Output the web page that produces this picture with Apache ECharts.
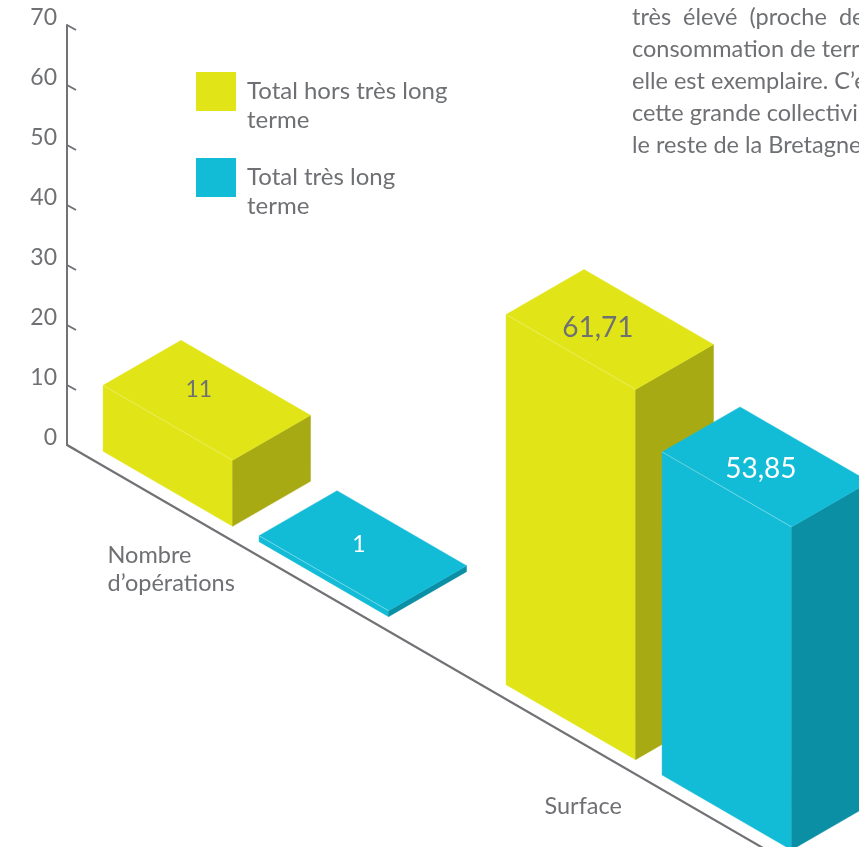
<!DOCTYPE html>
<html><head><meta charset="utf-8">
<style>html,body{margin:0;padding:0;background:#fff}#c{width:859px;height:847px}</style>
<script src="https://cdn.jsdelivr.net/npm/echarts@6/dist/echarts.min.js"></script>
</head><body><div id="c"></div>
<script>
const categories = ["Nombre\nd’opérations", "Surface"];
const seriesNames = ["Total hors très long\nterme", "Total très long\nterme"];
const horsTresLongTerme = [11, 61.71];
const tresLongTerme = [1, 53.85];
const yTickValues = [0, 10, 20, 30, 40, 50, 60, 70];
const noteLines = ["très  élevé  (proche  de", "consommation de terr", "elle est exemplaire. C’e", "cette grande collectivi", "le reste de la Bretagne"];

const FONT = "Lato";
const GREY = "#6f7073";
const AXIS = "#727276";
const SLOPE = 0.579, DEPTH_SLOPE = 0.577;
const FRONT_W = 129.5, SIDE_W = 78, GAP = 14.5;
const seriesShift = [-178, -22];
const valueNudge = [[[-8,-11],[-12,-1]], [[-4,-6],[-5,2]]];
const catNudge = [[-161,124],[-127,361]];
const faces = [
  {front:"#e1e518", top:"#e1e518", side:"#a8aa14", edge:"rgba(255,255,255,0.22)", label:GREY},
  {front:"#12bcd7", top:"#12bcd7", side:"#0b8fa5", edge:"rgba(255,255,255,0.35)", label:"#ffffff"}
];

function poly(points, fill){ return {type:"polygon", shape:{points}, style:{fill, stroke:fill, lineWidth:0.4}}; }

function barRenderer(s){
  return function(params, api){
    const cat = api.value(0), v = api.value(1);
    const top = api.coord([cat, v]), base = api.coord([cat, 0]);
    const gridLeft = params.coordSys.x;
    const along = top[0] + seriesShift[s] - gridLeft;
    const xL = gridLeft + along + 0.866 * GAP;
    const yB = base[1] + along * SLOPE - GAP / 2;
    const h = base[1] - top[1];
    const fx = FRONT_W, fy = FRONT_W * SLOPE, sx = SIDE_W, sy = -SIDE_W * DEPTH_SLOPE;
    const f = faces[s];
    const yT = yB - h;
    const nudge = valueNudge[s][params.dataIndex];
    const big = v > 20;
    return {type:"group", children:[
      poly([[xL,yB],[xL+fx,yB+fy],[xL+fx,yT+fy],[xL,yT]], f.front),
      poly([[xL+fx,yB+fy],[xL+fx+sx,yB+fy+sy],[xL+fx+sx,yT+fy+sy],[xL+fx,yT+fy]], f.side),
      poly([[xL,yT],[xL+sx,yT+sy],[xL+sx+fx,yT+sy+fy],[xL+fx,yT+fy]], f.top),
      {type:"line", shape:{x1:xL,y1:yT,x2:xL+fx,y2:yT+fy}, style:{stroke:f.edge, lineWidth:1}},
      {type:"text", style:{x:xL+(fx+sx)/2+nudge[0], y:yT+(fy+sy)/2+nudge[1],
        text:String(v).replace(".", ","), fill:f.label, font:(big?"28px ":"23px ")+FONT, align:"center", verticalAlign:"middle"}}
    ]};
  };
}

const chart = echarts.init(document.getElementById("c"), null, {renderer:"canvas"});
chart.setOption({
  animation:false,
  backgroundColor:"#ffffff",
  textStyle:{fontFamily:FONT},
  legend:{
    left:196, top:48.75, padding:0, orient:"vertical", icon:"rect", itemWidth:40, itemHeight:39, itemGap:0.5,
    data:seriesNames, selectedMode:false, formatter:name=>"\n"+name,
    textStyle:{fontFamily:FONT, fontSize:24, color:GREY, lineHeight:28.5, padding:[0,0,0,6]}
  },
  grid:{left:67, top:25, width:806, height:420, outerBoundsMode:"none"},
  xAxis:{type:"category", data:categories, show:false},
  yAxis:{type:"value", min:0, max:70, interval:10, position:"left",
    axisLine:{show:true, lineStyle:{color:AXIS, width:2}},
    axisTick:{show:false}, splitLine:{show:false},
    axisLabel:{color:GREY, fontFamily:FONT, fontSize:23, margin:10, verticalAlign:"bottom", lineHeight:14}
  },
  graphic:noteLines.map((t,i)=>({type:"text", left:632, top:5.5+i*32, silent:true,
    style:{text:t, fill:GREY, font:"23.5px "+FONT}})),
  series:[
    {name:"axes", type:"custom", silent:true, data:yTickValues.map(v=>[0,v]), encode:{x:0,y:1},
      renderItem(params, api){
        const p = api.coord([0, api.value(1)]);
        const x0 = params.coordSys.x;
        const items = [{type:"line", shape:{x1:x0,y1:p[1],x2:x0+9,y2:p[1]+5}, style:{stroke:AXIS, lineWidth:2}}];
        if(params.dataIndex === 0){
          items.push({type:"line", shape:{x1:x0,y1:p[1],x2:x0+800,y2:p[1]+800*SLOPE}, style:{stroke:AXIS, lineWidth:2.2}});
        }
        return {type:"group", children:items};
      }},
    {name:"categories", type:"custom", silent:true, data:categories.map((c,i)=>[i,0]), encode:{x:0,y:1},
      renderItem(params, api){
        const p = api.coord([api.value(0), 0]);
        const n = catNudge[params.dataIndex];
        return {type:"text", style:{x:p[0]+n[0], y:p[1]+n[1], text:categories[params.dataIndex], fill:GREY,
          font:"23.5px "+FONT, lineHeight:28, align:"left", verticalAlign:"middle"}};
      }},
    {name:seriesNames[0], type:"custom", itemStyle:{color:faces[0].front}, encode:{x:0,y:1},
      data:horsTresLongTerme.map((v,i)=>[i,v]), renderItem:barRenderer(0)},
    {name:seriesNames[1], type:"custom", itemStyle:{color:faces[1].front}, encode:{x:0,y:1},
      data:tresLongTerme.map((v,i)=>[i,v]), renderItem:barRenderer(1)}
  ]
});
</script></body></html>
